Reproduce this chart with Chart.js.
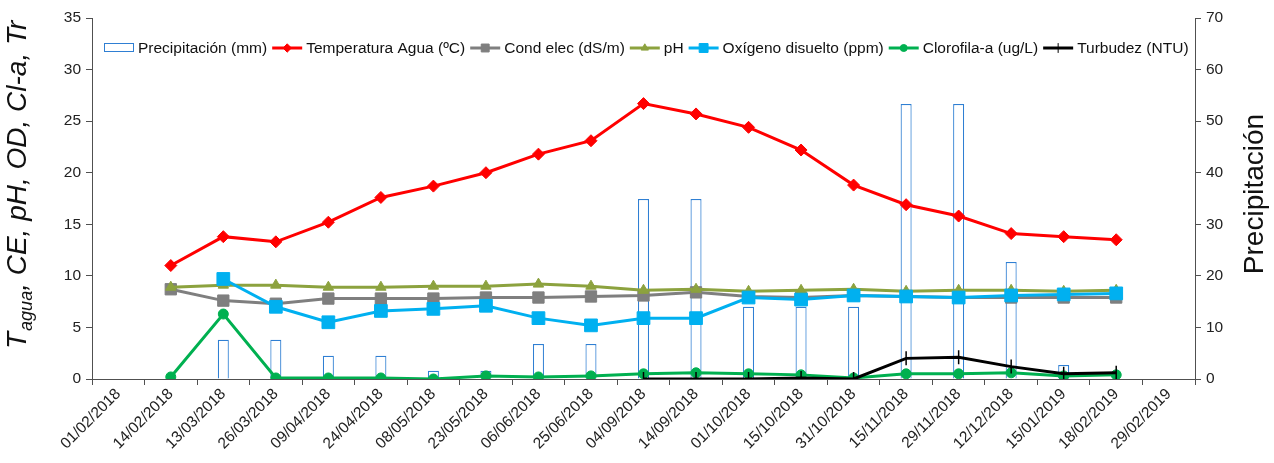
<!DOCTYPE html>
<html><head><meta charset="utf-8">
<script src="https://cdn.jsdelivr.net/npm/chart.js@4.4.0/dist/chart.umd.min.js"></script>
<style>html,body{margin:0;padding:0;background:#fff;overflow:hidden}</style>
</head><body>
<canvas id="c" width="1274" height="463" style="display:block;width:1274px;height:463px"></canvas>
<script>
const categories = ['01/02/2018','14/02/2018','13/03/2018','26/03/2018','09/04/2018','24/04/2018','08/05/2018','23/05/2018','06/06/2018','25/06/2018','04/09/2018','14/09/2018','01/10/2018','15/10/2018','31/10/2018','15/11/2018','29/11/2018','12/12/2018','15/01/2019','18/02/2019','29/02/2019'];
const precipitacion = [null, null, 7.6, 7.6, 4.5, 4.5, 1.6, 1.6, 6.8, 6.8, 34.9, 34.9, 14.0, 14.0, 14.0, 53.3, 53.3, 22.7, 2.7, null, null];
const temperatura = [null, 11.0, 13.8, 13.3, 15.2, 17.6, 18.7, 20.0, 21.8, 23.1, 26.7, 25.7, 24.4, 22.2, 18.8, 16.9, 15.8, 14.1, 13.8, 13.5, null];
const condElec = [null, 8.7, 7.6, 7.3, 7.8, 7.8, 7.8, 7.9, 7.9, 8.0, 8.1, 8.4, 8.0, 7.9, 8.1, 8.0, 7.9, 7.9, 7.9, 7.9, null];
const pH = [null, 8.9, 9.1, 9.1, 8.9, 8.9, 9.0, 9.0, 9.2, 9.0, 8.6, 8.7, 8.5, 8.6, 8.7, 8.5, 8.6, 8.6, 8.5, 8.6, null];
const oxigeno = [null, null, 9.7, 7.0, 5.5, 6.6, 6.8, 7.1, 5.9, 5.2, 5.9, 5.9, 7.9, 7.7, 8.1, 8.0, 7.9, 8.1, 8.2, 8.3, null];
const clorofila = [null, 0.2, 6.3, 0.1, 0.1, 0.1, 0.0, 0.3, 0.2, 0.3, 0.5, 0.6, 0.5, 0.4, 0.1, 0.5, 0.5, 0.6, 0.3, 0.4, null];
const turbidez = [null, null, null, null, null, null, null, null, null, null, 0.0, 0.0, 0.0, 0.1, 0.0, 2.0, 2.1, 1.2, 0.5, 0.6, null];
const leftTicks = [0, 5, 10, 15, 20, 25, 30, 35];
const rightTicks = [0, 10, 20, 30, 40, 50, 60, 70];

const FONT = "'Liberation Sans', Arial, sans-serif";
const AXIS = '#505050';

const legendPlugin = {
  id: 'customLegend',
  afterDraw(chart) {
    const ctx = chart.ctx;
    ctx.save();
    ctx.font = '15.5px ' + FONT;
    ctx.textBaseline = 'middle';
    let x = 104; const y = 48;
    chart.data.datasets.forEach(ds => {
      if (ds.type === 'bar') {
        ctx.strokeStyle = ds.borderColor; ctx.lineWidth = 1;
        ctx.strokeRect(x + 0.5, y - 4.5, 29, 8);
      } else {
        ctx.strokeStyle = ds.borderColor; ctx.lineWidth = ds.borderWidth;
        ctx.beginPath(); ctx.moveTo(x, y); ctx.lineTo(x + 30, y); ctx.stroke();
        ctx.fillStyle = ds.backgroundColor; ctx.strokeStyle = ds.borderColor; ctx.lineWidth = 1;
        Chart.helpers.drawPoint(ctx, {pointStyle: ds.pointStyle, radius: ds.pointRadius * 0.7, rotation: ds.pointRotation || 0, borderWidth: ds.pointBorderWidth || 1}, x + 15, y);
      }
      x += 34;
      ctx.fillStyle = '#111';
      ctx.fillText(ds.label, x, y + 1);
      x += ctx.measureText(ds.label).width + 5;
    });
    ctx.restore();
  }
};

const titlePlugin = {
  id: 'titles',
  afterDraw(chart) {
    const ctx = chart.ctx;
    ctx.save();
    ctx.fillStyle = '#111';
    ctx.translate(26, 349);
    ctx.rotate(-Math.PI / 2);
    ctx.textBaseline = 'alphabetic';
    ctx.font = 'italic 28px ' + FONT;
    ctx.fillText('T', 0, 0);
    let w = ctx.measureText('T').width + 1;
    ctx.font = 'italic 18px ' + FONT;
    ctx.fillText('agua', w, 6);
    w += ctx.measureText('agua').width;
    ctx.font = 'italic 28px ' + FONT;
    ctx.fillText(', CE, pH, OD, Cl-a, Tr', w, 0);
    ctx.restore();

    ctx.save();
    ctx.fillStyle = '#111';
    ctx.translate(1263, 194);
    ctx.rotate(-Math.PI / 2);
    ctx.font = '28px ' + FONT;
    ctx.textAlign = 'center';
    ctx.textBaseline = 'alphabetic';
    ctx.fillText('Precipitación', 0, 0);
    ctx.restore();
  }
};

function lineDs(label, data, color, style, radius, order, extra) {
  return Object.assign({
    type: 'line', label, data, yAxisID: 'y',
    borderColor: color, backgroundColor: color,
    borderWidth: 3, pointStyle: style, pointRadius: radius,
    pointBorderWidth: 1, pointBackgroundColor: color, pointBorderColor: color,
    tension: 0, spanGaps: false, order
  }, extra || {});
}

new Chart(document.getElementById('c'), {
  data: {
    labels: categories,
    datasets: [
      {type: 'bar', label: 'Precipitación (mm)', data: precipitacion, yAxisID: 'y2',
       backgroundColor: '#ffffff', borderColor: '#2F7FD3', borderWidth: 1.2,
       barPercentage: 0.21, categoryPercentage: 1, order: 7},
      lineDs('Temperatura Agua (ºC)', temperatura, '#FF0000', 'rectRot', 6, 6),
      lineDs('Cond elec (dS/m)', condElec, '#7F7F7F', 'rect', 8, 5),
      lineDs('pH', pH, '#8CA23E', 'triangle', 6, 4),
      lineDs('Oxígeno disuelto (ppm)', oxigeno, '#00B0F0', 'rect', 9, 3),
      lineDs('Clorofila-a (ug/L)', clorofila, '#00B050', 'circle', 5, 2),
      lineDs('Turbudez (NTU)', turbidez, '#000000', 'line', 7, 1, {pointRotation: 90, pointBorderWidth: 1.5})
    ]
  },
  options: {
    responsive: false, animation: false, devicePixelRatio: 1,
    layout: {padding: {top: 18, left: 0, right: 0, bottom: 0}},
    plugins: {legend: {display: false}, tooltip: {enabled: false}},
    scales: {
      x: {
        offset: true,
        grid: {display: true, drawOnChartArea: false, offset: true, tickLength: 6, color: AXIS},
        border: {display: true, color: AXIS},
        ticks: {autoSkip: false, maxRotation: 45, minRotation: 45, font: {size: 15.5, family: FONT}, color: '#222', padding: 0},
        afterFit(s) { s.height = 84; }
      },
      y: {
        position: 'left', min: leftTicks[0], max: leftTicks[leftTicks.length - 1],
        afterBuildTicks(s) { s.ticks = leftTicks.map(v => ({value: v})); },
        ticks: {font: {size: 15.5, family: FONT}, color: '#222', padding: 5},
        grid: {drawOnChartArea: false, tickLength: 6, color: AXIS},
        border: {display: true, color: AXIS},
        afterFit(s) { s.width = 92; }
      },
      y2: {
        position: 'right', min: rightTicks[0], max: rightTicks[rightTicks.length - 1],
        afterBuildTicks(s) { s.ticks = rightTicks.map(v => ({value: v})); },
        ticks: {font: {size: 15.5, family: FONT}, color: '#222', padding: 5},
        grid: {drawOnChartArea: false, tickLength: 6, color: AXIS},
        border: {display: true, color: AXIS},
        afterFit(s) { s.width = 79; }
      }
    }
  },
  plugins: [legendPlugin, titlePlugin]
});
</script>
</body></html>
